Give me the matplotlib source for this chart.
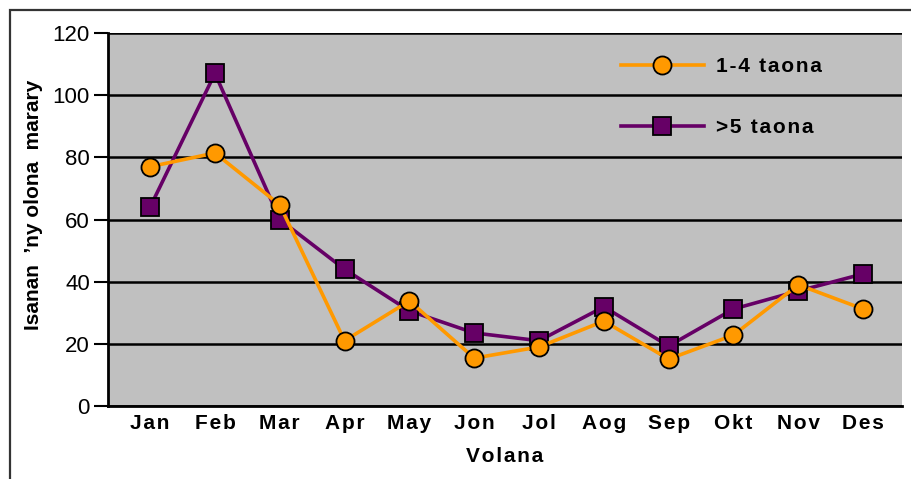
import matplotlib.pyplot as plt
from matplotlib.patches import Rectangle

# Volana sy isan'ny olona marary
volana = ['Jan', 'Feb', 'Mar', 'Apr', 'May', 'Jon', 'Jol', 'Aog', 'Sep', 'Okt', 'Nov', 'Des']
taona_1_4 = [77, 81.4, 64.7, 21, 33.8, 15.4, 19, 27.3, 15.1, 22.8, 39, 31.2]
taona_5 = [64, 107, 60, 44, 30.6, 23.5, 21, 31.9, 19.3, 31.2, 37, 42.5]
y_ticks = [0, 20, 40, 60, 80, 100, 120]

plt.rcParams['font.family'] = ['Liberation Sans', 'DejaVu Sans']


def spaced(s):
    # elanelana kely eo anelanelan'ny litera
    return '\u200a'.join(s)


fig = plt.figure(figsize=(9.12, 4.79), dpi=100)
# sisiny ivelany
fig.patches.append(Rectangle((10 / 912, -0.1), 1.2, (479 - 10) / 479 + 0.1,
                             transform=fig.transFigure, fill=False,
                             edgecolor='#333333', linewidth=1.6))

ax = fig.add_axes([108 / 912, 73 / 479, 794 / 912, 373 / 479])
ax.set_facecolor('#C0C0C0')

x = list(range(len(volana)))
ax.plot(x, taona_5, color='#660066', linewidth=2.6, marker='s', markersize=13,
        markerfacecolor='#660066', markeredgecolor='black', markeredgewidth=1.3,
        label=spaced('>5 taona'), zorder=3)
ax.plot(x, taona_1_4, color='#FF9900', linewidth=2.6, marker='o', markersize=13,
        markerfacecolor='#FF9900', markeredgecolor='black', markeredgewidth=1.3,
        label=spaced('1-4 taona'), zorder=4)

ax.set_xlim(-0.65, 11.6)
ax.set_ylim(0, 120)
ax.set_yticks(y_ticks)
ax.set_xticks(x)
ax.set_xticklabels([spaced(m) for m in volana], fontsize=15, fontweight='bold')
ax.tick_params(axis='x', length=0, pad=6)
ax.tick_params(axis='y', length=10, width=1.5, labelsize=16, pad=3)

ax.grid(axis='y', color='black', linewidth=1.8)
ax.set_axisbelow(True)
for s in ['top', 'right']:
    ax.spines[s].set_visible(False)
ax.spines['left'].set_linewidth(2)
ax.spines['bottom'].set_linewidth(2)

ax.set_xlabel(spaced('Volana'), fontsize=15, fontweight='bold', labelpad=10)
ax.set_ylabel('Isanan  \u2019ny olona  marary', fontsize=15, fontweight='bold')
ax.yaxis.set_label_coords(-0.082, 0.54)

handles, labels = ax.get_legend_handles_labels()
leg = ax.legend(handles[::-1], labels[::-1], loc='upper left', bbox_to_anchor=(0.622, 0.985),
                frameon=False, labelspacing=2.0, handlelength=4.0, handletextpad=0.6,
                prop={'weight': 'bold', 'size': 15})

plt.savefig('out.png', dpi=100)
